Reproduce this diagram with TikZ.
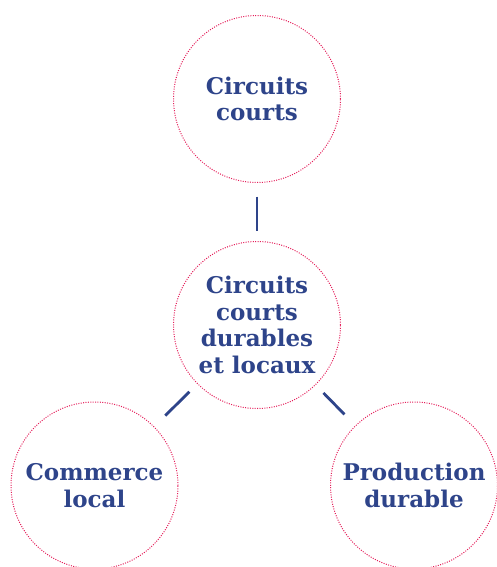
\documentclass[tikz,border=0pt]{standalone}
\usepackage{fontspec}
\setmainfont{DejaVu Serif}
\usetikzlibrary{positioning}
\definecolor{cNavy}{RGB}{46,68,138}
\definecolor{cPink}{RGB}{228,30,90}
\tikzset{
	theme/.style={circle, draw=cPink, line width=1pt, dash pattern=on 1pt off 1.4pt, minimum size=167pt, inner sep=0pt, align=center, text=cNavy, font=\bfseries\fontsize{23}{26.5}\selectfont},
	link/.style={draw=cNavy, line width=2.8pt},
}

\begin{document}
\begin{tikzpicture}[x=1pt,y=-1pt]
	\useasboundingbox (0,0) rectangle (497,567);
	% central theme and its three neighbours
	\node[theme] (core) at (257,325) {Circuits\\courts\\durables\\et locaux};
	\node[theme] (short) at (257,99) {Circuits\\courts};
	\node[theme] (trade) at (94.5,485.5) {Commerce\\local};
	\node[theme] (prod) at (414,485.5) {Production\\durable};
	\draw[link, shorten <=13.5pt, shorten >=10pt] (short) -- (core);
	\draw[link, shorten <=11pt, shorten >=15.5pt] (core) -- (trade);
	\draw[link, shorten <=11pt, shorten >=15.5pt] (core) -- (prod);
\end{tikzpicture}
\end{document}
